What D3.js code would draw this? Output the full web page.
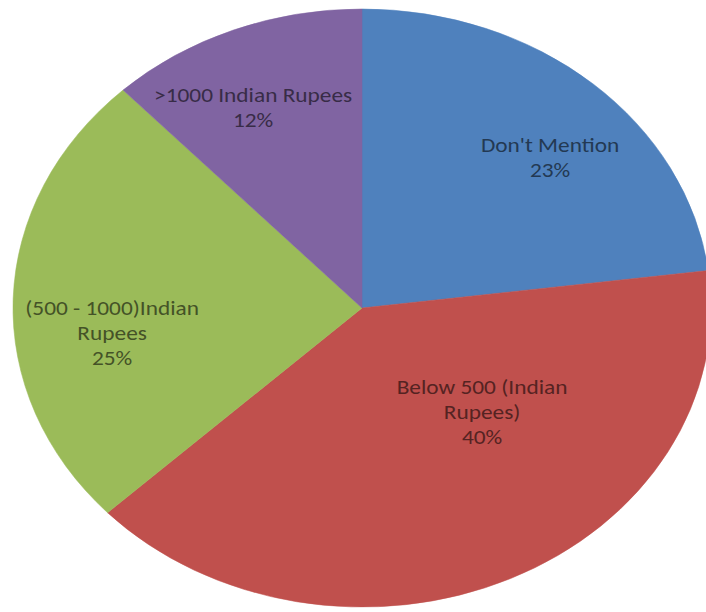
<!DOCTYPE html>
<html>
<head>
<meta charset="utf-8">
<script src="https://cdn.jsdelivr.net/npm/d3@7"></script>
<style>
  html, body { margin: 0; padding: 0; background: #ffffff; }
  svg { display: block; }
</style>
</head>
<body>
<svg id="chart" width="706" height="612"></svg>
<script>
// ---- data ----
const categories = ["Don't Mention", "Below 500 (Indian Rupees)", "(500 - 1000)Indian Rupees", ">1000 Indian Rupees"];
const values = [23, 40, 25, 12];
const labelLines = [
  ["Don't Mention"],
  ["Below 500 (Indian", "Rupees)"],
  ["(500 - 1000)Indian", "Rupees"],
  [">1000 Indian Rupees"]
];
const colors = ["#4F81BD", "#C0504D", "#9BBB59", "#8064A2"];

// ---- layout (label anchors as fractions of the radius) ----
const labelAnchors = [
  [0.539, -0.503],
  [0.344, 0.348],
  [-0.716, 0.084],
  [-0.312, -0.671]
];

const W = 706, H = 612;
const cx = 362, cy = 308;
const r = 299;          // vertical radius
const sx = 349 / 299;   // horizontal stretch of the picture

const svg = d3.select("#chart");
const g = svg.append("g").attr("transform", `translate(${cx},${cy}) scale(${sx},1)`);

const data = categories.map((c, i) => ({ name: c, value: values[i], lines: labelLines[i], color: colors[i], anchor: labelAnchors[i] }));

const pie = d3.pie().value(d => d.value).sort(null);
const arc = d3.arc().innerRadius(0).outerRadius(r);
const arcs = pie(data);

g.selectAll("path.slice")
  .data(arcs)
  .join("path")
  .attr("class", "slice")
  .attr("d", arc)
  .attr("fill", d => d.data.color)
  .attr("stroke", d => d.data.color)
  .attr("stroke-width", 0.5);

const fmt = d3.format(".0%");
const total = d3.sum(values);
const fontSize = 20, lineH = 25;

const labels = g.selectAll("text.lbl")
  .data(arcs)
  .join("text")
  .attr("class", "lbl")
  .attr("text-anchor", "middle")
  .attr("font-family", "Carlito, Calibri, Lato, 'Open Sans', sans-serif")
  .attr("font-size", fontSize)
  .attr("fill", d => d3.color(d.data.color).darker(2.3));

labels.each(function(d) {
  const lines = d.data.lines.concat([fmt(d.data.value / total)]);
  const x = d.data.anchor[0] * r;
  const yc = d.data.anchor[1] * r;
  const y0 = yc - (lines.length - 1) * lineH / 2 + fontSize * 0.35;
  d3.select(this).selectAll("tspan")
    .data(lines)
    .join("tspan")
    .attr("x", x)
    .attr("y", (t, i) => y0 + i * lineH)
    .text(t => t);
});
</script>
</body>
</html>
